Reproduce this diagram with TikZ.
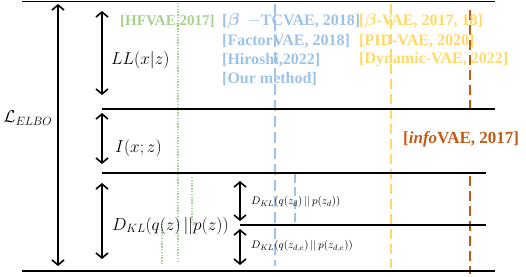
\documentclass[tikz,border=0pt]{standalone}
\usepackage{amsmath}
\usepackage{fontspec}
\setmainfont{Liberation Serif}
\usetikzlibrary{arrows.meta}
\definecolor{cgreen}{HTML}{A9D18E}
\definecolor{cblue}{HTML}{9DC3E6}
\definecolor{cyellow}{HTML}{FFD966}
\definecolor{corange}{HTML}{C55A11}
\tikzset{
  hline/.style={line width=1.8pt, black},
  dblarrow/.style={{Straight Barb[length=5pt,width=12pt,line width=1.6pt]}-{Straight Barb[length=5pt,width=12pt,line width=1.6pt]}, line width=1.6pt},
  gdot/.style={cgreen, line width=1.3pt, dash pattern=on 1.3pt off 1.5pt},
  bdash/.style={cblue, line width=1.6pt, dash pattern=on 11pt off 5pt},
  ydash/.style={cyellow, line width=1.6pt, dash pattern=on 10pt off 5pt},
  odash/.style={corange, line width=1.6pt, dash pattern=on 10pt off 5pt},
  reflbl/.style={font=\fontsize{16}{16}\selectfont\bfseries, anchor=west, inner sep=0pt},
  mathlbl/.style={font=\fontsize{16.5}{16.5}\selectfont, inner sep=0pt},
  smalllbl/.style={font=\fontsize{11}{11}\selectfont, anchor=west, inner sep=0pt},
}
\begin{document}
\begin{tikzpicture}[x=1pt,y=-1pt]
\useasboundingbox (0,0) rectangle (526,276);
% coordinates
\coordinate (t0) at (22,1.5);   \coordinate (t1) at (495,1.5);
\coordinate (a0) at (102,109);  \coordinate (a1) at (495,109);
\coordinate (b0) at (102,173);  \coordinate (b1) at (486,173);
\coordinate (c0) at (240,225);  \coordinate (c1) at (486,225);
\coordinate (d0) at (22,271);   \coordinate (d1) at (495,271);
% vertical reference lines
\coordinate (g1a) at (178,3);   \coordinate (g1b) at (178,263);
\coordinate (g2a) at (192,177); \coordinate (g2b) at (192,223);
\coordinate (g3a) at (162,221); \coordinate (g3b) at (162,265);
\coordinate (bl1a) at (275,4);  \coordinate (bl1b) at (275,266);
\coordinate (bl2a) at (295,174); \coordinate (bl2b) at (295,223);
\coordinate (y1a) at (391,4);   \coordinate (y1b) at (391,268);
\coordinate (o1a) at (470,10);  \coordinate (o1b) at (470,108);
\coordinate (o2a) at (470,176); \coordinate (o2b) at (470,274);
\draw[gdot] (g1a) -- (g1b);
\draw[gdot] (g2a) -- (g2b);
\draw[gdot] (g3a) -- (g3b);
\draw[bdash] (bl1a) -- (bl1b);
\draw[bdash, dash pattern=on 9pt off 4pt] (bl2a) -- (bl2b);
\draw[ydash] (y1a) -- (y1b);
\draw[odash] (o1a) -- (o1b);
\draw[odash] (o2a) -- (o2b);
% horizontal lines
\draw[hline] (t0) -- (t1);
\draw[hline] (a0) -- (a1);
\draw[hline] (b0) -- (b1);
\draw[hline] (c0) -- (c1);
\draw[hline] (d0) -- (d1);
% arrows
\coordinate (e0) at (58,4);    \coordinate (e1) at (58,266);
\coordinate (l0) at (102,11);  \coordinate (l1) at (102,95);
\coordinate (i0) at (102,113); \coordinate (i1) at (102,164);
\coordinate (k0) at (102,183); \coordinate (k1) at (102,259);
\coordinate (s0) at (240,181); \coordinate (s1) at (240,221);
\coordinate (r0) at (240,229); \coordinate (r1) at (240,265);
\draw[dblarrow] (e0) -- (e1);
\draw[dblarrow] (l0) -- (l1);
\draw[dblarrow] (i0) -- (i1);
\draw[dblarrow] (k0) -- (k1);
\draw[dblarrow] (s0) -- (s1);
\draw[dblarrow] (r0) -- (r1);
% math labels
\node[mathlbl, font=\fontsize{18}{18}\selectfont] (elbo) at (28,118) {$\mathcal{L}_{ELBO}$};
\node[mathlbl, anchor=west] (ll) at (111,60) {$LL(x|z)$};
\node[mathlbl, anchor=west] (ixz) at (115,148) {$I(x;z)$};
\node[mathlbl, anchor=west] (dkl) at (112,226) {$D_{KL}(q(z)\,||p(z))$};
\node[smalllbl] (dkl1) at (251,202) {$D_{KL}(q(z_{d})\,||\,p(z_{d}))$};
\node[smalllbl] (dkl2) at (251,246) {$D_{KL}(q(z_{d,e})\,||\,p(z_{d,e}))$};
% reference labels
\node[reflbl, font=\fontsize{15}{15}\selectfont\bfseries, text=cgreen] (hf) at (120,21) {[HFVAE,2017]};
\node[reflbl, text=cblue] (tc) at (222,21) {[$\boldsymbol{\beta}$\ \ $-$TCVAE, 2018]};
\node[reflbl, text=cblue] (fa) at (222,41) {[FactorVAE, 2018]};
\node[reflbl, text=cblue] (hi) at (222,60) {[Hiroshi,2022]};
\node[reflbl, text=cblue] (our) at (222,79) {[Our method]};
\node[reflbl, text=cyellow] (bv) at (359,21) {[$\boldsymbol{\beta}$-VAE, 2017, 18]};
\node[reflbl, text=cyellow] (pid) at (359,41) {[PID-VAE, 2020]};
\node[reflbl, text=cyellow] (dyn) at (359,60) {[Dynamic-VAE, 2022]};
\node[reflbl, font=\fontsize{17}{17}\selectfont\bfseries, text=corange] (info) at (403,139) {[\textit{info}VAE, 2017]};
\end{tikzpicture}
\end{document}
